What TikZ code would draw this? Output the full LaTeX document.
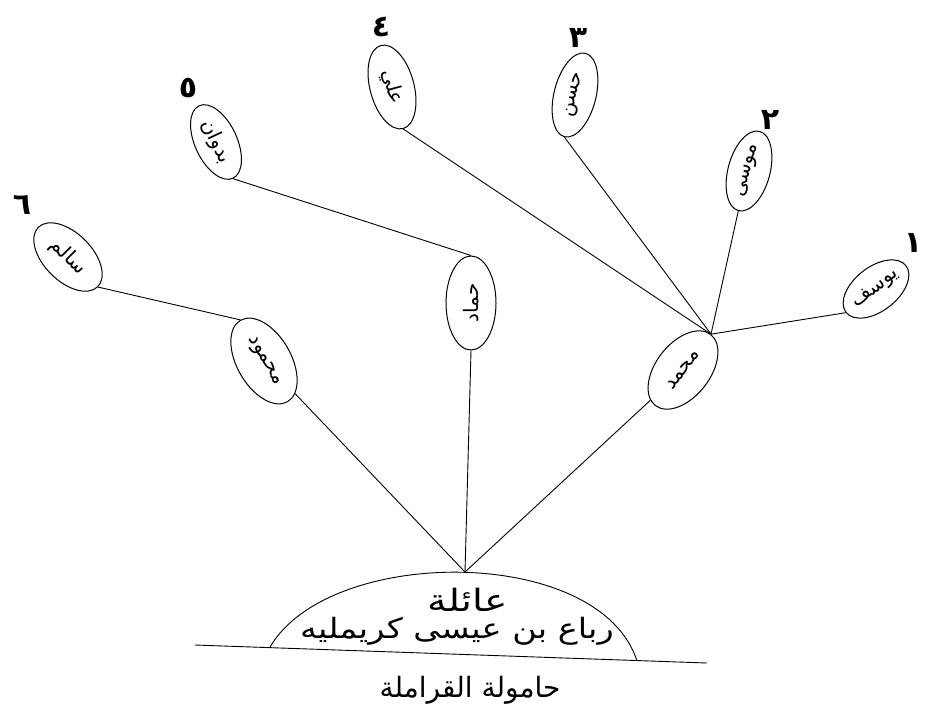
\documentclass[tikz,border=0pt]{standalone}
\usepackage{fontspec}
\TeXXeTstate=1
\newfontfamily\arabicfont[Script=Arabic]{DejaVu Sans}
\newcommand\artxt[1]{\beginR #1\endR}
\usetikzlibrary{shapes.geometric}
\begin{document}
\begin{tikzpicture}[x=1pt,y=-1pt,
  person/.style={ellipse, draw, line width=1pt, inner sep=0pt, font=\arabicfont\fontsize{20}{20}\selectfont},
  num/.style={font=\arabicfont\bfseries\fontsize{30}{30}\selectfont, inner sep=0pt},
  bigtxt/.style={font=\arabicfont\fontsize{28}{28}\selectfont, inner sep=0pt},
  link/.style={line width=0.9pt}]
\useasboundingbox (0,0) rectangle (928,716);
% people
\node[person, minimum width=84, minimum height=48, rotate=-45] (salem) at (68,257) {\artxt{سالم}};
\node[person, minimum width=94, minimum height=54, rotate=-60] (mahmoud) at (264,361) {\artxt{محمود}};
\node[person, minimum width=80, minimum height=42, rotate=-65] (badwan) at (216,142) {\artxt{بدوان}};
\node[person, minimum width=94, minimum height=50, rotate=90] (hammad) at (471,303) {\artxt{حماد}};
\node[person, minimum width=86, minimum height=44, rotate=-75] (ali) at (392,87) {\artxt{علي}};
\node[person, minimum width=86, minimum height=42, rotate=76] (hasan) at (575,95) {\artxt{حسن}};
\node[person, minimum width=82, minimum height=42, rotate=75] (musa) at (749,171) {\artxt{موسى}};
\node[person, minimum width=76, minimum height=44, rotate=38] (yusuf) at (876,289) {\artxt{يوسف}};
\node[person, minimum width=90, minimum height=54, rotate=52] (mohammad) at (683,370) {\artxt{محمد}};
% numbers
\node[num] (n6) at (22,205) {\artxt{٦}};
\node[num] (n5) at (188,88) {\artxt{٥}};
\node[num] (n4) at (381,27) {\artxt{٤}};
\node[num] (n3) at (578,38) {\artxt{٣}};
\node[num] (n2) at (770,120) {\artxt{٢}};
\node[num] (n1) at (913,243) {\artxt{١}};
% base
\coordinate (apex) at (465,572);
\coordinate (gl) at (195,645);
\coordinate (gr) at (707,663);
\coordinate (dl) at (270,647);
\coordinate (dr) at (637,661);
\draw[link] (gl) -- (gr);
\draw[link] (dl) .. controls (330,545) and (600,545) .. (dr);
\node[bigtxt] (fam) at (468,600) {\scalebox{1.4}[1.1]{\artxt{عائلة}}};
\node[bigtxt] (name) at (457,631) {\scalebox{1.2}[1]{\artxt{رباع بن عيسى كريمليه}}};
\node[bigtxt] (clan) at (470,690) {\artxt{حامولة القراملة}};
% connectors
\draw[link] (apex) -- (mahmoud);
\draw[link] (apex) -- (hammad.west);
\draw[link] (apex) -- (mohammad);
\draw[link] (salem.east) -- (mahmoud.west);
\draw[link] (badwan.east) -- (hammad.east);
\draw[link] (mohammad.east) -- (ali.east);
\draw[link] (mohammad.east) -- (hasan.west);
\draw[link] (mohammad.east) -- (musa.west);
\draw[link] (mohammad.east) -- (yusuf.west);
\end{tikzpicture}
\end{document}
